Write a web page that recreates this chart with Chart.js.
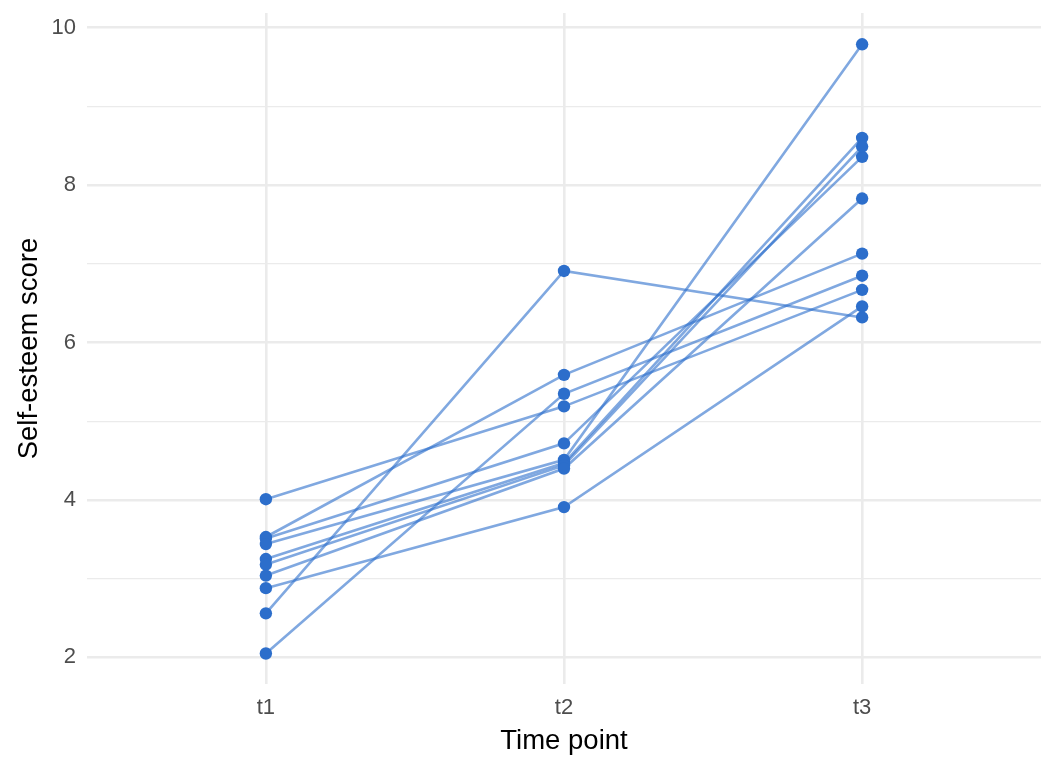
<!DOCTYPE html>
<html><head><meta charset="utf-8">
<script src="https://cdn.jsdelivr.net/npm/chart.js@4/dist/chart.umd.min.js"></script>
<style>html,body{margin:0;padding:0;background:#fff}#wrap{width:1056px;height:768px}</style>
</head><body><div id="wrap"><canvas id="c" width="1056" height="768"></canvas></div>
<script>
const timeLabels = ['t1', 't2', 't3'];
const scoreT1 = [4.01, 2.05, 2.56, 2.88, 3.53, 3.51, 3.44, 3.25, 3.18, 3.04];
const scoreT2 = [5.19, 5.35, 6.91, 3.91, 5.59, 4.72, 4.51, 4.47, 4.44, 4.40];
const scoreT3 = [6.67, 6.85, 6.32, 6.46, 7.13, 8.36, 9.79, 8.60, 8.49, 7.83];
const yTicks = [2, 3, 4, 5, 6, 7, 8, 9, 10];

const series = [scoreT1, scoreT2, scoreT3];
const FONT = "'Liberation Sans', Arial, Helvetica, sans-serif";
const ptColor = '#2C6ECB';
const lineColor = 'rgba(44,110,203,0.6)';

const datasets = [];
for (let s = 0; s < scoreT1.length; s++) {
  datasets.push({
    type: 'line',
    data: series.map((arr, i) => ({x: i + 1, y: arr[s]})),
    borderColor: lineColor,
    borderWidth: 2.6,
    pointRadius: 0,
    fill: false,
    tension: 0,
    order: 2
  });
}
const pts = [];
series.forEach((arr, i) => arr.forEach(v => pts.push({x: i + 1, y: v})));
datasets.push({
  type: 'scatter',
  data: pts,
  backgroundColor: ptColor,
  borderColor: ptColor,
  borderWidth: 0,
  pointRadius: 6.2,
  order: 1
});

new Chart(document.getElementById('c'), {
  type: 'scatter',
  data: {datasets},
  options: {
    responsive: false,
    animation: false,
    devicePixelRatio: 1,
    layout: {padding: {top: 13, right: 15, left: 0, bottom: 0}},
    plugins: {legend: {display: false}, tooltip: {enabled: false}},
    scales: {
      x: {
        type: 'linear',
        min: 0.4, max: 3.6,
        afterBuildTicks: s => { s.ticks = timeLabels.map((_, i) => ({value: i + 1})); },
        afterFit: s => { s.height = 84; s.paddingLeft = 0; s.paddingRight = 0; },
        border: {display: false},
        grid: {color: '#EBEBEB', lineWidth: 2.6, drawTicks: false},
        ticks: {
          padding: 11,
          color: '#4D4D4D',
          font: {family: FONT, size: 22},
          callback: v => timeLabels[v - 1]
        },
        title: {display: true, text: 'Time point', color: '#000', font: {family: FONT, size: 27.5}, padding: {top: 0, bottom: 10}}
      },
      y: {
        type: 'linear',
        min: 1.6625, max: 10.1875,
        afterBuildTicks: s => { s.ticks = yTicks.map(v => ({value: v})); },
        afterFit: s => { s.width = 87; s.paddingTop = 0; s.paddingBottom = 0; },
        border: {display: false},
        grid: {
          color: '#EBEBEB',
          lineWidth: ctx => (ctx.tick && ctx.tick.value % 2 === 0) ? 2.6 : 1.3,
          drawTicks: false
        },
        ticks: {
          padding: 11,
          color: '#4D4D4D',
          font: {family: FONT, size: 22},
          callback: v => (v % 2 === 0 ? String(v) : '')
        },
        title: {display: true, text: 'Self-esteem score', color: '#000', font: {family: FONT, size: 27.5}, padding: {top: 13, bottom: 0}}
      }
    }
  }
});
</script></body></html>
